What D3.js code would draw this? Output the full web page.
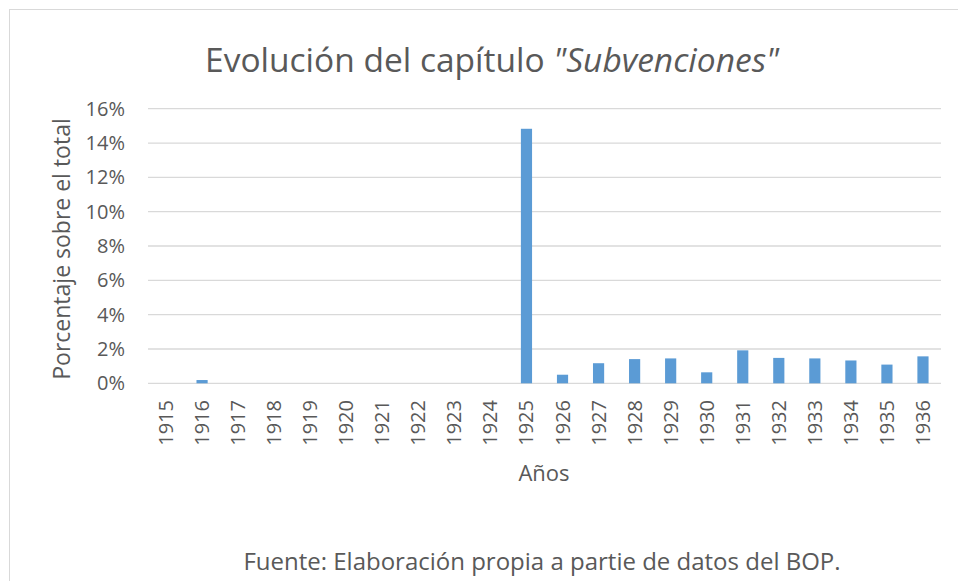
<!DOCTYPE html>
<html>
<head>
<meta charset="utf-8">
<script src="https://cdn.jsdelivr.net/npm/d3@7"></script>
<style>
  body { margin: 0; background: #fff; }
  text { font-family: "Open Sans", sans-serif; fill: #595959; }
</style>
</head>
<body>
<script>
var years = ["1915", "1916", "1917", "1918", "1919", "1920", "1921", "1922", "1923", "1924", "1925",
             "1926", "1927", "1928", "1929", "1930", "1931", "1932", "1933", "1934", "1935", "1936"];
var values = [0, 0.0019, 0, 0, 0, 0, 0, 0, 0, 0, 0.1483,
              0.0050, 0.0117, 0.0141, 0.0145, 0.0064, 0.0192, 0.0148, 0.0145, 0.0133, 0.0109, 0.0157];
var yTicks = [0, 0.02, 0.04, 0.06, 0.08, 0.10, 0.12, 0.14, 0.16];

var w = 958;
var h = 581;
var plotLeft = 148, plotRight = 941, plotTop = 108.7, plotBottom = 383.3;

var svg = d3.select("body")
			.append("svg")
			.attr("width", w)
			.attr("height", h);

// chart frame (runs past the window on the right and bottom)
svg.append("rect")
	.attr("x", 9.5)
	.attr("y", 9.5)
	.attr("width", 960)
	.attr("height", 600)
	.attr("fill", "none")
	.attr("stroke", "#d9d9d9");

var xScale = d3.scaleBand()
				.domain(years)
				.range([plotLeft, plotRight])
				.paddingInner(0.69)
				.paddingOuter(0.345);

var yScale = d3.scaleLinear()
				.domain([0, 0.16])
				.range([plotBottom, plotTop]);

// gridlines
svg.selectAll("line.grid")
	.data(yTicks)
	.enter()
	.append("line")
	.attr("class", "grid")
	.attr("x1", plotLeft)
	.attr("x2", plotRight)
	.attr("y1", function(d) { return yScale(d); })
	.attr("y2", function(d) { return yScale(d); })
	.attr("stroke", "#d9d9d9")
	.attr("stroke-width", 1.3);

// y tick labels
svg.selectAll("text.ytick")
	.data(yTicks)
	.enter()
	.append("text")
	.attr("class", "ytick")
	.attr("x", 125)
	.attr("y", function(d) { return yScale(d); })
	.attr("dy", "0.35em")
	.attr("text-anchor", "end")
	.style("font-size", "20px")
	.text(function(d) { return d3.format(".0%")(d); });

// bars
svg.selectAll("rect.bar")
	.data(values)
	.enter()
	.append("rect")
	.attr("class", "bar")
	.attr("x", function(d, i) { return xScale(years[i]); })
	.attr("y", function(d) { return yScale(d); })
	.attr("width", xScale.bandwidth())
	.attr("height", function(d) { return plotBottom - yScale(d); })
	.attr("fill", "#5b9bd5");

// x tick labels, rotated
svg.selectAll("text.xtick")
	.data(years)
	.enter()
	.append("text")
	.attr("class", "xtick")
	.attr("transform", function(d) {
		return "translate(" + (xScale(d) + xScale.bandwidth() / 2) + ",400) rotate(-90)";
	})
	.attr("dy", "0.35em")
	.attr("text-anchor", "end")
	.style("font-size", "20px")
	.text(function(d) { return d; });

// title
var title = svg.append("text")
	.attr("x", 492)
	.attr("y", 72)
	.attr("text-anchor", "middle")
	.style("font-size", "33.5px");
title.append("tspan").text("Evolución del capítulo ");
title.append("tspan").style("font-style", "italic").text("\"Subvenciones\"");

// axis titles
svg.append("text")
	.attr("transform", "translate(70,249) rotate(-90)")
	.attr("text-anchor", "middle")
	.style("font-size", "23px")
	.text("Porcentaje sobre el total");

svg.append("text")
	.attr("x", 544)
	.attr("y", 481)
	.attr("text-anchor", "middle")
	.style("font-size", "22px")
	.text("Años");

svg.append("text")
	.attr("x", 542)
	.attr("y", 570)
	.attr("text-anchor", "middle")
	.style("font-size", "24px")
	.text("Fuente: Elaboración propia a partie de datos del BOP.");
</script>
</body>
</html>
